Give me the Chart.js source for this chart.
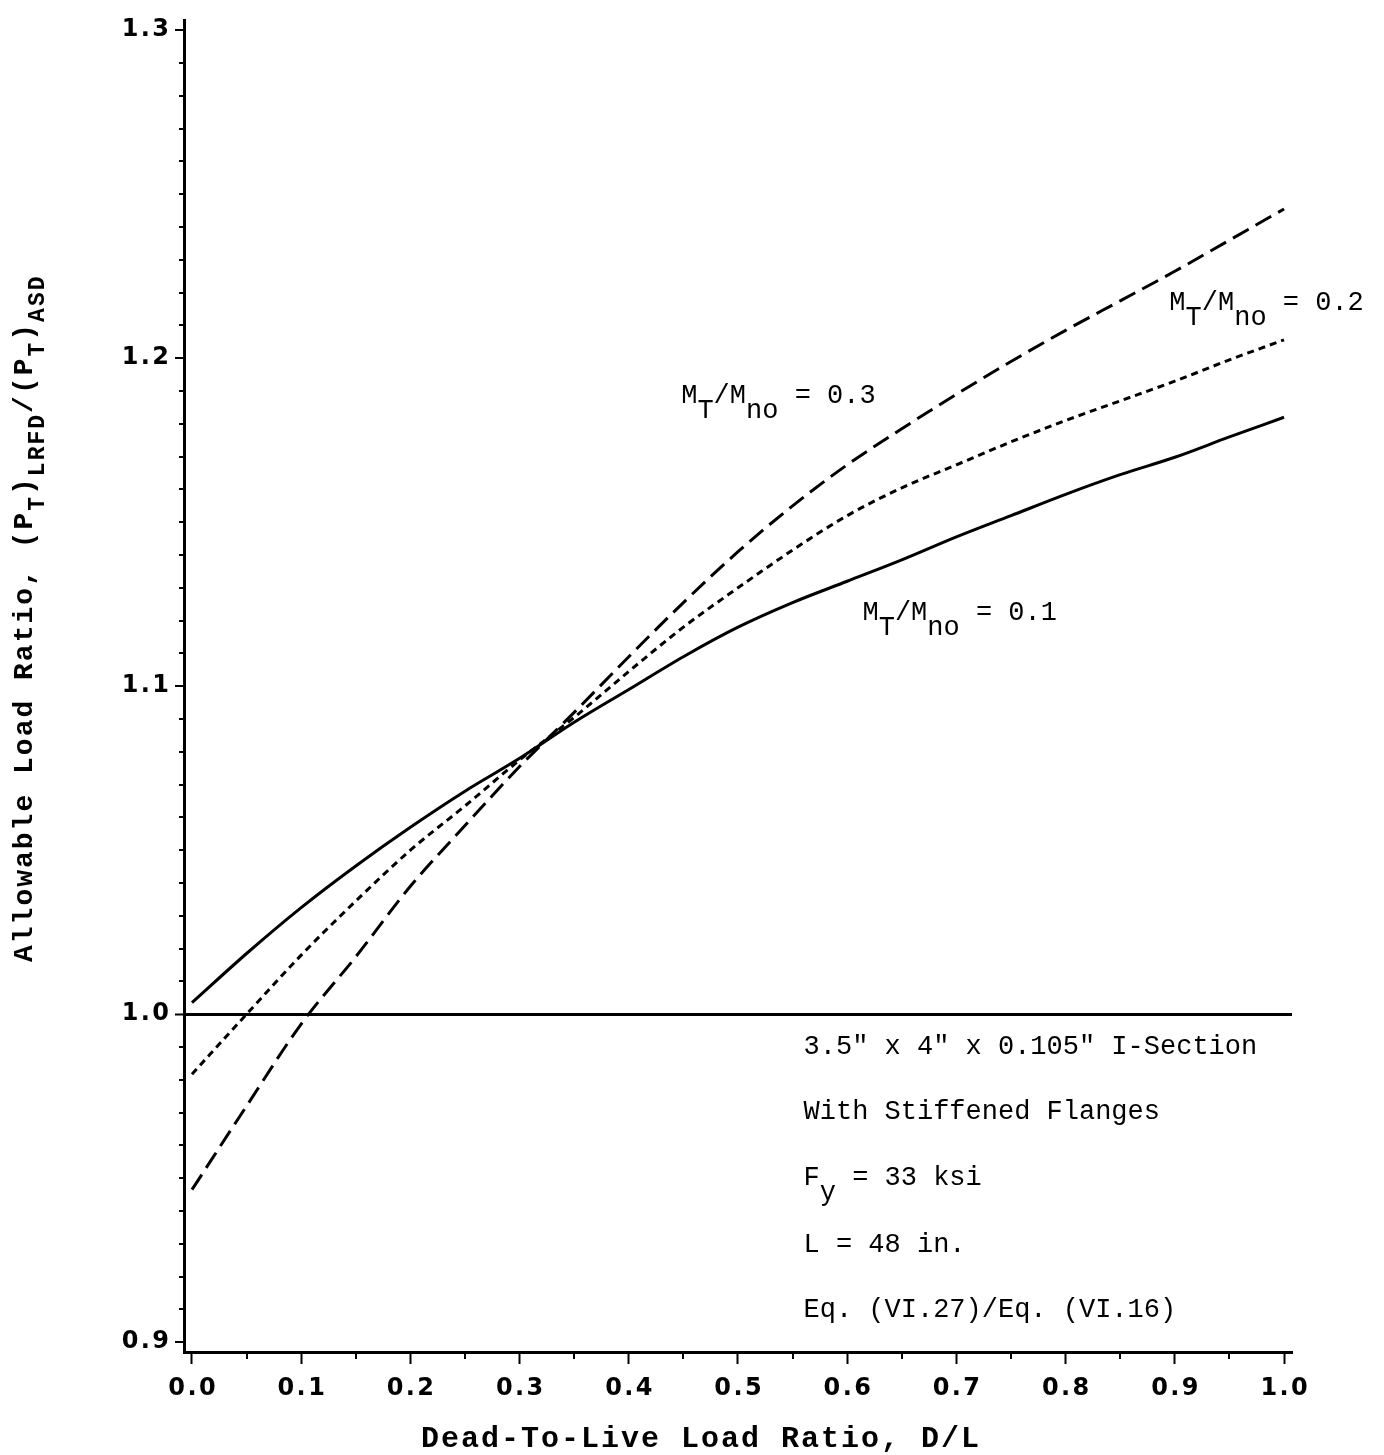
<!DOCTYPE html>
<html>
<head>
<meta charset="utf-8">
<script src="https://cdn.jsdelivr.net/npm/chart.js@4.4.1/dist/chart.umd.min.js"></script>
<style>
html,body{margin:0;padding:0;background:#fff;}
#wrap{width:1384px;height:1455px;}
</style>
</head>
<body>
<div id="wrap"><canvas id="chart" width="1384" height="1455"></canvas></div>
<script>
// dead-to-live load ratio D/L
const dlRatio = [0.00,0.05,0.10,0.15,0.20,0.25,0.30,0.35,0.40,0.45,0.50,0.55,0.60,0.65,0.70,0.75,0.80,0.85,0.90,0.95,1.00];
// (PT)LRFD/(PT)ASD for each MT/Mno
const ratioMt01 = [1.0035,1.0185,1.0325,1.0452,1.0570,1.0680,1.0780,1.0890,1.0990,1.1090,1.1180,1.1255,1.1320,1.1385,1.1455,1.1520,1.1585,1.1645,1.1698,1.1760,1.1820];
const ratioMt02 = [0.9817,1.0000,1.0180,1.0345,1.0500,1.0635,1.0775,1.0905,1.1045,1.1180,1.1300,1.1415,1.1520,1.1605,1.1675,1.1745,1.1810,1.1870,1.1930,1.1995,1.2056];
const ratioMt03 = [0.9465,0.9720,0.9970,1.0175,1.0390,1.0575,1.0755,1.0920,1.1090,1.1255,1.1410,1.1550,1.1675,1.1785,1.1890,1.1990,1.2085,1.2175,1.2265,1.2360,1.2455];
const xTickLabels = ["0.0","0.1","0.2","0.3","0.4","0.5","0.6","0.7","0.8","0.9","1.0"];
const yTickLabels = ["0.9","1.0","1.1","1.2","1.3"];

const INK = "#000";
const MONO = '"Liberation Mono","DejaVu Sans Mono",monospace';

// text placed on the plot (data coordinates)
const curveLabels = [
    {parts:[["M"],["T",1],["/M"],["no",1],[" = 0.3"]], x:0.448, y:1.1862},
    {parts:[["M"],["T",1],["/M"],["no",1],[" = 0.2"]], x:0.895, y:1.2147},
    {parts:[["M"],["T",1],["/M"],["no",1],[" = 0.1"]], x:0.614, y:1.1203}
];
const noteLines = [
    {parts:[['3.5" x 4" x 0.105" I-Section']], y:0.9880},
    {parts:[["With Stiffened Flanges"]], y:0.9681},
    {parts:[["F"],["y",1],[" = 33 ksi"]], y:0.9478},
    {parts:[["L = 48 in."]], y:0.9275},
    {parts:[["Eq. (VI.27)/Eq. (VI.16)"]], y:0.9076}
];

function spaced(s){ return s.split("").join("\u200A"); }

function drawRich(ctx, parts, x, y, font, subFont, drop){
    let cx = x;
    parts.forEach(([t, sub])=>{
        ctx.font = sub ? subFont : font;
        ctx.fillText(t, cx, y + (sub ? drop : 0));
        cx += ctx.measureText(t).width;
    });
}

function line(ctx, x1, y1, x2, y2){
    ctx.beginPath();
    ctx.moveTo(x1, y1);
    ctx.lineTo(x2, y2);
    ctx.stroke();
}

const inkPlugin = {
    id:"ink",
    afterDraw(chart){
        const {ctx, chartArea, scales:{x, y}} = chart;
        ctx.save();
        ctx.strokeStyle = INK;
        ctx.fillStyle = INK;
        ctx.lineWidth = 2;
        // minor ticks
        for(let i=0;i<10;i++){
            const px = Math.round(x.getPixelForValue(0.05 + 0.1*i));
            line(ctx, px, chartArea.bottom, px, chartArea.bottom + 7);
        }
        for(let k=90;k<=130;k++){
            if(k % 10 === 0) continue;
            const py = Math.round(y.getPixelForValue(k/100));
            line(ctx, chartArea.left - 5, py, chartArea.left, py);
        }
        ctx.textBaseline = "alphabetic";
        ctx.textAlign = "left";
        const f = "27px " + MONO;
        curveLabels.forEach(l=>{
            drawRich(ctx, l.parts, x.getPixelForValue(l.x), y.getPixelForValue(l.y), f, f, 15);
        });
        noteLines.forEach(l=>{
            drawRich(ctx, l.parts, x.getPixelForValue(0.56), y.getPixelForValue(l.y), f, f, 15);
        });
        // x axis title
        ctx.letterSpacing = "2px";
        ctx.font = "bold 30px " + MONO;
        ctx.textAlign = "center";
        ctx.fillText("Dead-To-Live Load Ratio, D/L", 701, 1447);
        // y axis title
        ctx.letterSpacing = "2px";
        ctx.textAlign = "left";
        ctx.translate(32, 962);
        ctx.rotate(-Math.PI/2);
        drawRich(ctx, [["Allowable Load Ratio, (P"],["T",1],[")"],["LRFD",1],["/(P"],["T",1],[")"],["ASD",1]],
            0, 0, "bold 28px " + MONO, "bold 23px " + MONO, 12);
        ctx.restore();
    }
};

const isOne = c => c.tick && Math.abs(c.tick.value - 1) < 1e-9;

new Chart(document.getElementById("chart"), {
    type:"line",
    data:{
        datasets:[
            {label:"MT/Mno = 0.1", data:dlRatio.map((d,i)=>({x:d, y:ratioMt01[i]})),
             borderColor:INK, borderWidth:3, pointRadius:0, cubicInterpolationMode:"monotone"},
            {label:"MT/Mno = 0.2", data:dlRatio.map((d,i)=>({x:d, y:ratioMt02[i]})),
             borderColor:INK, borderWidth:3, borderDash:[7,5], pointRadius:0, cubicInterpolationMode:"monotone"},
            {label:"MT/Mno = 0.3", data:dlRatio.map((d,i)=>({x:d, y:ratioMt03[i]})),
             borderColor:INK, borderWidth:3, borderDash:[18,8], pointRadius:0, cubicInterpolationMode:"monotone"}
        ]
    },
    options:{
        responsive:false,
        animation:false,
        devicePixelRatio:1,
        layout:{padding:{top:10, right:92, left:0, bottom:0}},
        plugins:{legend:{display:false}, tooltip:{enabled:false}},
        scales:{
            x:{
                type:"linear", min:-0.0073, max:1.0073,
                afterFit: s => { s.height = 103; },
                ticks:{
                    stepSize:0.1, includeBounds:false, padding:10, color:INK, maxRotation:0,
                    font:{family:"DejaVu Sans", weight:"bold", size:24},
                    callback: v => { const i = Math.round(v*10); return xTickLabels[i] ? spaced(xTickLabels[i]) : ""; }
                },
                grid:{drawOnChartArea:false, tickLength:12, tickWidth:2, tickColor:INK},
                border:{display:true, color:INK, width:3}
            },
            y:{
                type:"linear", min:0.897, max:1.303,
                afterFit: s => { s.width = 184; },
                ticks:{
                    stepSize:0.1, includeBounds:false, padding:6, color:INK,
                    font:{family:"DejaVu Sans", weight:"bold", size:24},
                    callback: v => { const i = Math.round(v*10) - 9; return yTickLabels[i] ? spaced(yTickLabels[i]) : ""; }
                },
                grid:{
                    drawOnChartArea:true,
                    color: c => isOne(c) ? INK : "rgba(0,0,0,0)",
                    lineWidth: c => isOne(c) ? 3 : 0,
                    tickLength:9, tickWidth:2, tickColor:INK
                },
                border:{display:true, color:INK, width:3}
            }
        }
    },
    plugins:[inkPlugin]
});
</script>
</body>
</html>
